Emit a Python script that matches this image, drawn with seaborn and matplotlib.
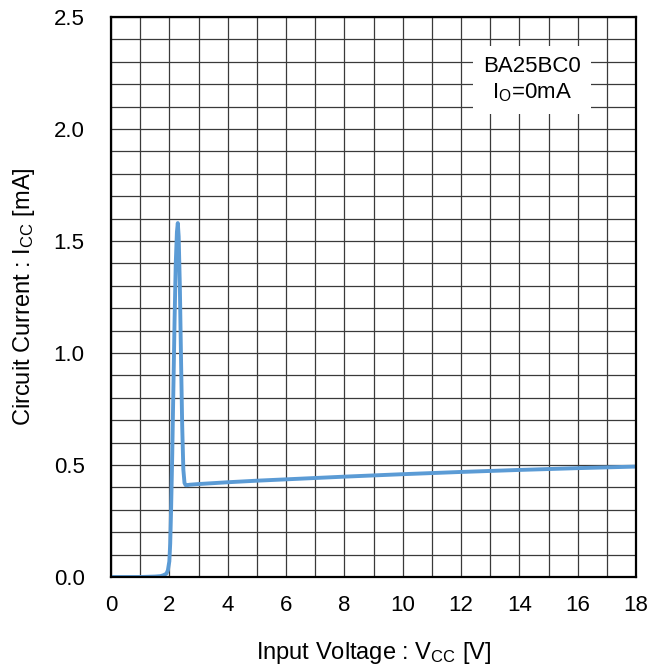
import numpy as np
import pandas as pd
import seaborn as sns
import matplotlib.pyplot as plt
from matplotlib.ticker import MultipleLocator

# Circuit current vs input voltage
vcc = [0.0, 0.5, 1.0, 1.5, 1.7, 1.8, 1.9, 1.95, 2.0, 2.03, 2.06, 2.1, 2.14,
       2.18, 2.22, 2.26, 2.29, 2.32, 2.36, 2.40, 2.44, 2.48, 2.52, 2.56, 2.6,
       2.7, 3.0, 4.0, 5.0, 6.0, 8.0, 10.0, 12.0, 14.0, 16.0, 18.0]
icc = [0.0, 0.0, 0.0, 0.002, 0.004, 0.008, 0.015, 0.03, 0.07, 0.15, 0.30, 0.55, 0.85,
       1.15, 1.40, 1.54, 1.58, 1.52, 1.30, 0.98, 0.68, 0.48, 0.42, 0.41, 0.41,
       0.412, 0.415, 0.423, 0.43, 0.436, 0.448, 0.459, 0.469, 0.478, 0.486, 0.493]

xticks = np.arange(0, 19, 2)
yticks = [0.0, 0.5, 1.0, 1.5, 2.0, 2.5]

df = pd.DataFrame({'Vcc': vcc, 'Icc': icc})

sns.set_style('white')
plt.rcParams['font.family'] = ['Liberation Sans', 'DejaVu Sans']
plt.rcParams['mathtext.fontset'] = 'custom'
plt.rcParams['mathtext.rm'] = 'Liberation Sans'
plt.rcParams['mathtext.it'] = 'Liberation Sans'
plt.rcParams['text.color'] = 'black'
plt.rcParams['axes.labelcolor'] = 'black'
plt.rcParams['xtick.color'] = 'black'
plt.rcParams['ytick.color'] = 'black'

fig = plt.figure(figsize=(6.48, 6.68), dpi=100)
ax = fig.add_axes([0.1713, 0.1362, 0.8102, 0.8384])

sns.lineplot(data=df, x='Vcc', y='Icc', ax=ax, color='#5B9BD5', linewidth=2.8)

ax.set_xlim(0, 18)
ax.set_ylim(0, 2.5)
ax.set_xticks(xticks)
ax.set_yticks(yticks)
ax.set_yticklabels([f'{v:.1f}' for v in yticks])
ax.xaxis.set_minor_locator(MultipleLocator(1))
ax.yaxis.set_minor_locator(MultipleLocator(0.1))
ax.grid(True, which='both', color='#3a3a3a', linewidth=0.9)
ax.set_axisbelow(True)
ax.tick_params(which='both', length=0, labelsize=16)
ax.tick_params(axis='x', pad=13)
ax.tick_params(axis='y', pad=19)

for s in ax.spines.values():
    s.set_color('black')
    s.set_linewidth(1.6)

ax.set_xlabel('Input Voltage : V$_\\mathregular{CC}$ [V]', fontsize=17, labelpad=17)
ax.set_ylabel('Circuit Current : I$_\\mathregular{CC}$ [mA]', fontsize=17, labelpad=12)

ax.text(0.802, 0.8875, 'BA25BC0\nI$_\\mathregular{O}$=0mA', transform=ax.transAxes,
        ha='center', va='center', fontsize=16, linespacing=1.3,
        bbox=dict(facecolor='white', edgecolor='none', pad=7))

fig.savefig('out.png', dpi=100)
